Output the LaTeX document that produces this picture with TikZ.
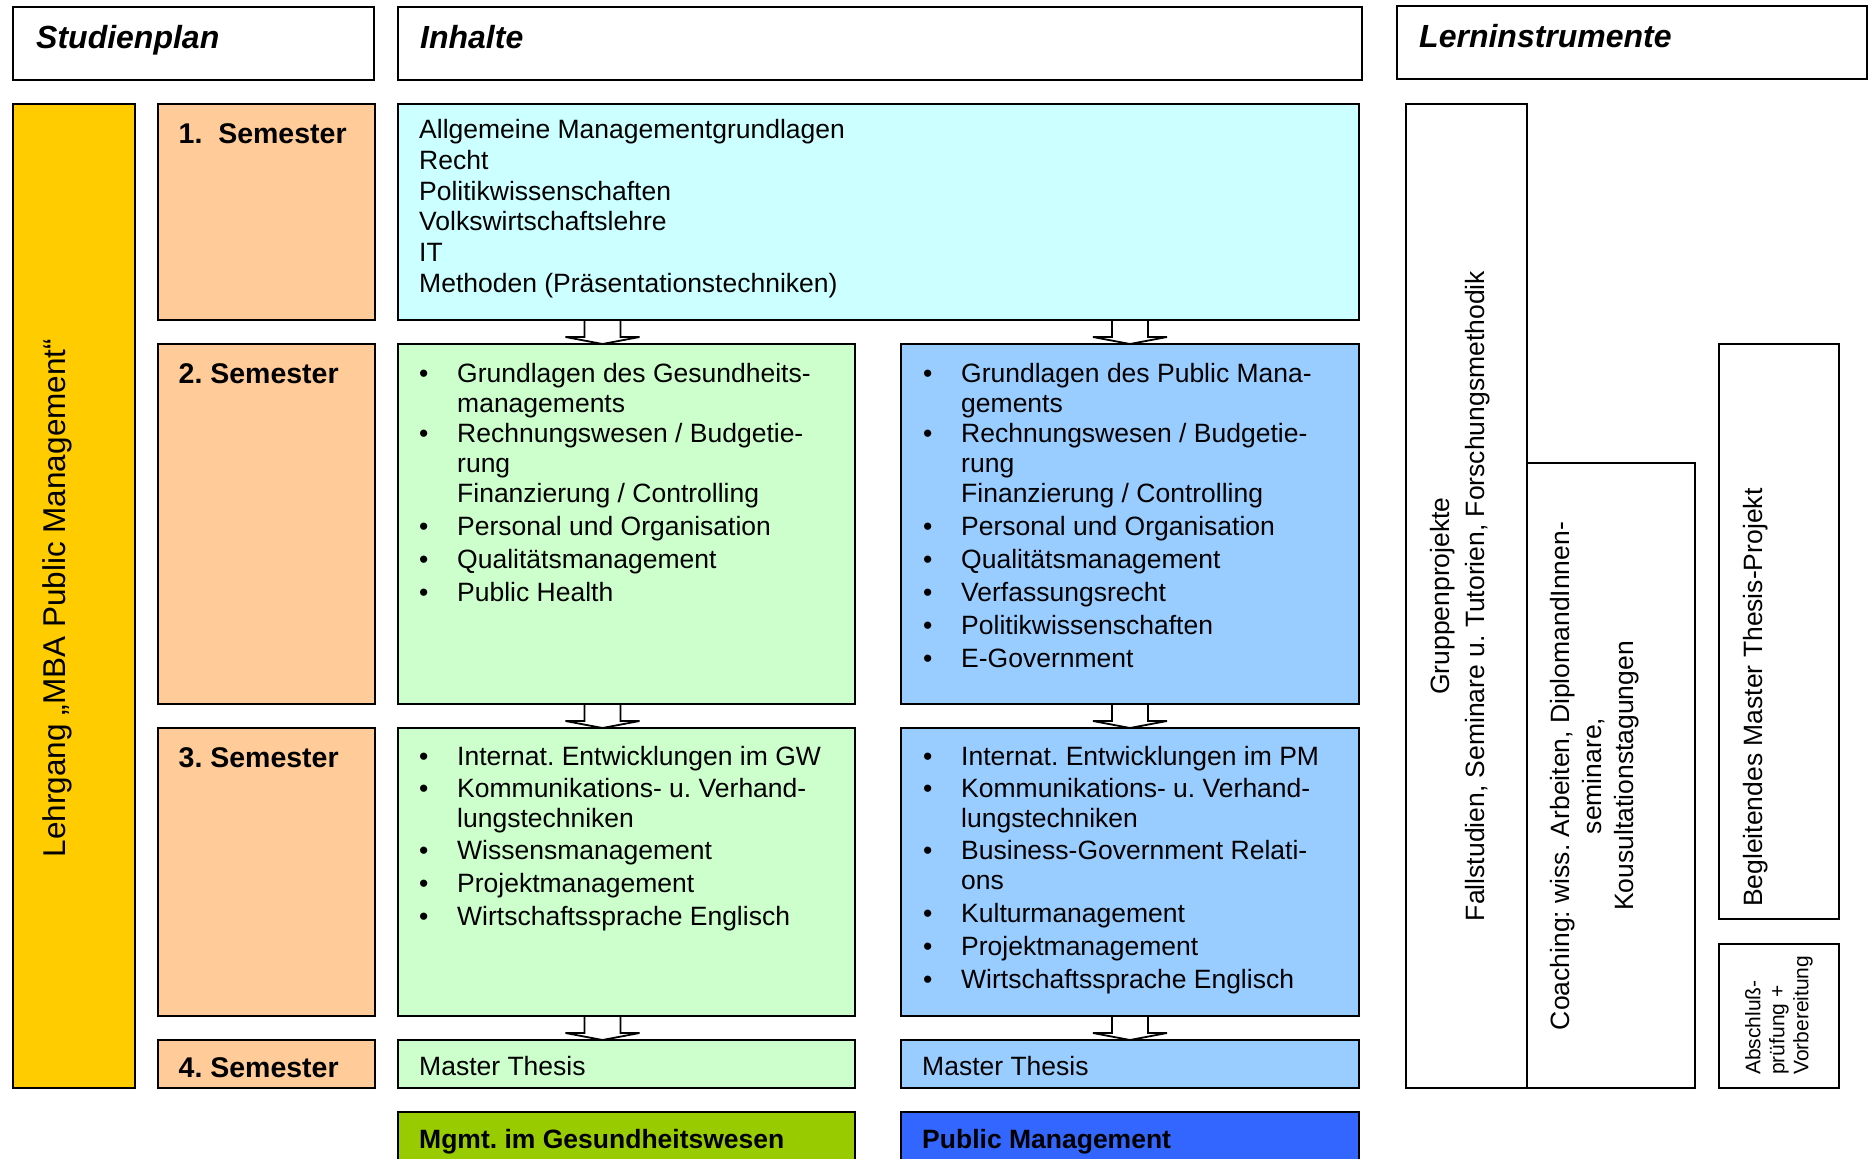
\documentclass[tikz,border=0pt]{standalone}
\usepackage{fontspec}
\setmainfont{Liberation Sans}
\usetikzlibrary{calc,backgrounds}
\definecolor{cYellow}{HTML}{FFCC00}
\definecolor{cOrange}{HTML}{FFCC99}
\definecolor{cCyan}{HTML}{CCFFFF}
\definecolor{cGreen}{HTML}{CCFFCC}
\definecolor{cBlue}{HTML}{99CCFF}
\definecolor{cGreenD}{HTML}{99CC00}
\definecolor{cBlueD}{HTML}{3366FF}
\frenchspacing
\tikzset{
  bx/.style={draw, line width=1.8pt, inner sep=0pt, outer sep=0pt, anchor=north west},
  tx/.style={inner sep=0pt, anchor=base west, font=\fontsize{26.5}{30.5}\selectfont},
  txb/.style={inner sep=0pt, anchor=base west, font=\fontsize{26.5}{30.5}\selectfont\bfseries},
  hd/.style={inner sep=0pt, anchor=base west, font=\fontsize{32}{36}\selectfont\bfseries\itshape},
  sem/.style={inner sep=0pt, anchor=base west, font=\fontsize{28.5}{32}\selectfont\bfseries},
  rot/.style={inner sep=0pt, rotate=90},
  barrow/.pic={
    \draw[fill=white, line width=1.8pt, line join=miter]
      (-18,0) -- (-18,17) -- (-37,17) -- (0,24) -- (37,17) -- (18,17) -- (18,0);
  }
}
\newcommand\bitem[4]{\node[tx] (#1b) at (#2,#3) {\textbullet}; \node[tx] (#1) at (#2+38,#3) {#4};}
\newcommand\citem[4]{\node[tx] (#1) at (#2+38,#3) {#4};}
\begin{document}
\begin{tikzpicture}[x=1pt,y=-1pt]
\useasboundingbox (0,0) rectangle (1872,1159);
\clip (0,0) rectangle (1872,1159);

% headers
\node[bx, minimum width=361pt, minimum height=73pt] (hStud) at (13,7) {};
\node[bx, minimum width=964pt, minimum height=73pt] (hInh) at (398,7) {};
\node[bx, minimum width=470pt, minimum height=73pt] (hLern) at (1397,6) {};
\node[hd] (tStud) at (36,48) {Studienplan};
\node[hd] (tInh) at (420,48) {Inhalte};
\node[hd] (tLern) at (1419,47) {Lerninstrumente};

% left column
\node[bx, fill=cYellow, minimum width=122pt, minimum height=984pt] (yel) at (13,104) {};
\node[rot, font=\fontsize{31.5}{35}\selectfont] (tYel) at (57,598) {Lehrgang „MBA Public Management“};

\node[bx, fill=cOrange, minimum width=217pt, minimum height=216pt] (s1) at (158,104) {};
\node[bx, fill=cOrange, minimum width=217pt, minimum height=360pt] (s2) at (158,344) {};
\node[bx, fill=cOrange, minimum width=217pt, minimum height=288pt] (s3) at (158,728) {};
\node[bx, fill=cOrange, minimum width=217pt, minimum height=48pt] (s4) at (158,1040) {};
\node[sem] (ts1) at (178.5,143) {1.\ \ Semester};
\node[sem] (ts2) at (178.5,383) {2. Semester};
\node[sem] (ts3) at (178.5,767) {3. Semester};
\node[sem] (ts4) at (178.5,1077) {4. Semester};

% content boxes
\node[bx, fill=cCyan, minimum width=961pt, minimum height=216pt] (cy) at (398,104) {};
\node[bx, fill=cGreen, minimum width=457pt, minimum height=360pt] (g2) at (398,344) {};
\node[bx, fill=cBlue, minimum width=458pt, minimum height=360pt] (b2) at (901,344) {};
\node[bx, fill=cGreen, minimum width=457pt, minimum height=288pt] (g3) at (398,728) {};
\node[bx, fill=cBlue, minimum width=458pt, minimum height=288pt] (b3) at (901,728) {};
\node[bx, fill=cGreen, minimum width=457pt, minimum height=48pt] (g4) at (398,1040) {};
\node[bx, fill=cBlue, minimum width=458pt, minimum height=48pt] (b4) at (901,1040) {};
\node[bx, fill=cGreenD, minimum width=457pt, minimum height=70pt] (gm) at (398,1112) {};
\node[bx, fill=cBlueD, minimum width=458pt, minimum height=70pt] (bm) at (901,1112) {};

% cyan text
\node[tx] (c1) at (419,138) {Allgemeine Managementgrundlagen};
\node[tx] (c2) at (419,169) {Recht};
\node[tx] (c3) at (419,200) {Politikwissenschaften};
\node[tx] (c4) at (419,230) {Volkswirtschaftslehre};
\node[tx] (c5) at (419,261) {IT};
\node[tx] (c6) at (419,292) {Methoden (Präsentationstechniken)};

% green 2
\bitem{ga1}{419}{382}{Grundlagen des Gesundheits-}
\citem{ga2}{419}{412}{managements}
\bitem{ga3}{419}{442}{Rechnungswesen / Budgetie-}
\citem{ga4}{419}{472}{rung}
\citem{ga5}{419}{502}{Finanzierung / Controlling}
\bitem{ga6}{419}{535}{Personal und Organisation}
\bitem{ga7}{419}{568}{Qualitätsmanagement}
\bitem{ga8}{419}{601}{Public Health}

% blue 2
\bitem{ba1}{923}{382}{Grundlagen des Public Mana-}
\citem{ba2}{923}{412}{gements}
\bitem{ba3}{923}{442}{Rechnungswesen / Budgetie-}
\citem{ba4}{923}{472}{rung}
\citem{ba5}{923}{502}{Finanzierung / Controlling}
\bitem{ba6}{923}{535}{Personal und Organisation}
\bitem{ba7}{923}{568}{Qualitätsmanagement}
\bitem{ba8}{923}{601}{Verfassungsrecht}
\bitem{ba9}{923}{634}{Politikwissenschaften}
\bitem{ba10}{923}{667}{E-Government}

% green 3
\bitem{gb1}{419}{765}{Internat. Entwicklungen im GW}
\bitem{gb2}{419}{797}{Kommunikations- u. Verhand-}
\citem{gb3}{419}{827}{lungstechniken}
\bitem{gb4}{419}{859}{Wissensmanagement}
\bitem{gb5}{419}{892}{Projektmanagement}
\bitem{gb6}{419}{925}{Wirtschaftssprache Englisch}

% blue 3
\bitem{bb1}{923}{765}{Internat. Entwicklungen im PM}
\bitem{bb2}{923}{797}{Kommunikations- u. Verhand-}
\citem{bb3}{923}{827}{lungstechniken}
\bitem{bb4}{923}{859}{Business-Government Relati-}
\citem{bb5}{923}{889}{ons}
\bitem{bb6}{923}{922}{Kulturmanagement}
\bitem{bb7}{923}{955}{Projektmanagement}
\bitem{bb8}{923}{988}{Wirtschaftssprache Englisch}

% master thesis and tracks
\node[tx] (tg4) at (419,1075) {Master Thesis};
\node[tx] (tb4) at (922,1075) {Master Thesis};
\node[txb] (tgm) at (419,1148) {Mgmt. im Gesundheitswesen};
\node[txb] (tbm) at (922,1148) {Public Management};

% right column
\node[bx, minimum width=121pt, minimum height=984pt] (r1) at (1406,104) {};
\node[bx, minimum width=168pt, minimum height=625pt] (r2) at (1527,463) {};
\node[bx, minimum width=120pt, minimum height=575pt] (r3) at (1719,344) {};
\node[bx, minimum width=120pt, minimum height=144pt] (r4) at (1719,944) {};
\node[rot, align=center, font=\fontsize{26.5}{35}\selectfont] (tr1) at (1460,596)
  {Gruppenprojekte\\Fallstudien, Seminare u. Tutorien, Forschungsmethodik};
\node[rot, align=center, font=\fontsize{26.5}{32}\selectfont] (tr2) at (1595,776)
  {Coaching: wiss. Arbeiten, DiplomandInnen-\\seminare,\\Kousultationstagungen};
\node[rot, anchor=west, font=\fontsize{26.5}{30.5}\selectfont] (tr3) at (1756,907)
  {Begleitendes Master Thesis-Projekt};
\node[rot, anchor=west, align=left, font=\fontsize{21}{24}\selectfont] (tr4) at (1779,1075)
  {Abschluß-\\prüfung +\\Vorbereitung};

% background: white page and block arrows
\begin{scope}[on background layer]
  \fill[white] (0,0) rectangle (1872,1159);
  \pic at ($(g2.north |- cy.south)+(-24,0)$) {barrow};
  \pic at (b2.north |- cy.south) {barrow};
  \pic at ($(g2.south)+(-24,0)$) {barrow};
  \pic at (b2.south) {barrow};
  \pic at ($(g3.south)+(-24,0)$) {barrow};
  \pic at (b3.south) {barrow};
\end{scope}
\end{tikzpicture}
\end{document}
